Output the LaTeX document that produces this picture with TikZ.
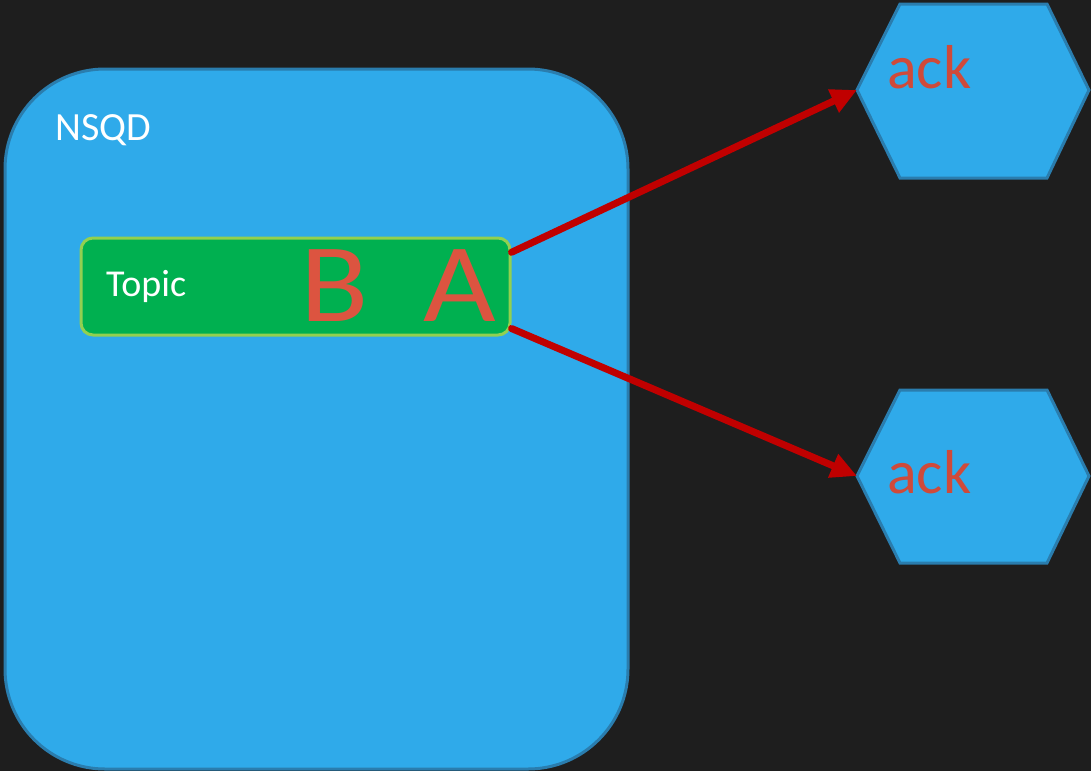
\documentclass[tikz,border=0pt]{standalone}
\usepackage{fontspec}
\setmainfont{Carlito}
\usetikzlibrary{arrows.meta}
\definecolor{bg}{HTML}{1E1E1E}
\definecolor{boxfill}{HTML}{2FAAEA}
\definecolor{boxedge}{HTML}{2A7DAE}
\definecolor{topicfill}{HTML}{00B050}
\definecolor{topicedge}{HTML}{92D050}
\definecolor{arrowred}{HTML}{C00000}
\definecolor{letterred}{HTML}{DC5440}
\definecolor{ackred}{HTML}{CF4A3A}
\begin{document}
\begin{tikzpicture}[x=1pt,y=-1pt,
  server/.style={draw=boxedge, fill=boxfill, line width=3pt, rounded corners=100pt,
    minimum width=623pt, minimum height=700pt, inner sep=0pt},
  topicbox/.style={draw=topicedge, fill=topicfill, line width=3pt, rounded corners=12pt,
    minimum width=429pt, minimum height=97pt, inner sep=0pt},
  hexshape/.style={draw=boxedge, fill=boxfill, line width=3pt, line join=miter},
  whitetext/.style={text=white, inner sep=0pt},
  msgletter/.style={text=letterred, inner sep=0pt, anchor=base, xscale=1.12,
    font=\fontsize{112}{120}\selectfont},
  acktext/.style={text=ackred, inner sep=0pt, anchor=base west, font=\fontsize{62}{66}\selectfont},
  flow/.style={draw=arrowred, line width=7pt, line cap=round,
    -{Triangle[length=26pt, width=24pt]}}]
  % canvas
  \fill[bg] (0,0) rectangle (1091,771);
  \useasboundingbox (0,0) rectangle (1091,771);

  % server box with its label
  \node[server] (nsqd) at (316.5,419) {};
  \node[whitetext, anchor=west, font=\fontsize{40}{44}\selectfont] (nsqdlabel) at (55,130) {NSQD};

  % topic holding messages B and A
  \node[topicbox] (topic) at (295.5,286.5) {};
  \node[whitetext, anchor=west, font=\fontsize{38}{42}\selectfont] (topiclabel) at (106,286) {Topic};
  \node[msgletter] (msgb) at (334.5,321) {B};
  \node[msgletter] (msga) at (459.5,321) {A};

  % consumers
  \draw[hexshape] (857,90) coordinate (hexa) -- (900,4) -- (1047,4) -- (1089,90)
    -- (1047,178) -- (900,178) -- cycle;
  \draw[hexshape] (857,476) coordinate (hexb) -- (900,390) -- (1047,390) -- (1089,476)
    -- (1047,563) -- (900,563) -- cycle;
  \node[acktext] (acka) at (887,88) {ack};
  \node[acktext] (ackb) at (887,493) {ack};

  % deliveries
  \draw[flow] (topic.9) -- (hexa);
  \draw[flow] (topic.-11) -- (hexb);
\end{tikzpicture}
\end{document}
